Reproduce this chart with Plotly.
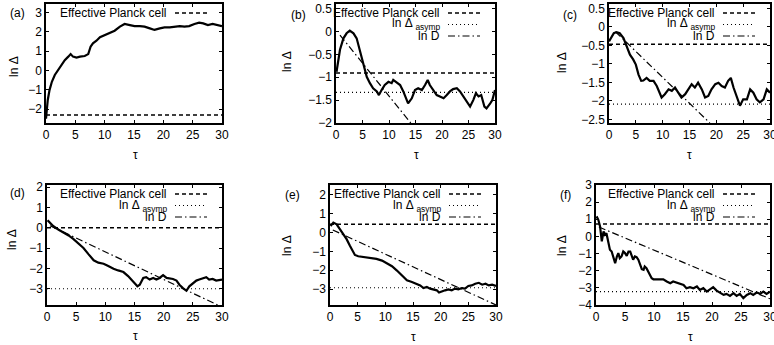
import plotly.graph_objects as go

W, H = 774, 345

# ---------------- data ----------------
tau_a = [0, 0.3, 0.6, 1.0, 1.5, 2.1, 2.7, 3.2, 3.8, 4.2, 4.6, 5.2, 5.8, 6.6, 7.2, 7.6, 8.0, 8.6, 9.2, 10.0,
         10.9, 11.7, 12.6, 13.4, 14.3, 15.1, 16.0, 16.8, 17.7, 18.5, 19.4, 20.2, 21.1, 21.9, 22.8, 23.6,
         24.4, 25.3, 26.1, 26.8, 27.6, 28.4, 29.3, 30]
lnd_a = [-2.5, -1.53, -1.02, -0.59, -0.24, 0.02, 0.28, 0.53, 0.71, 0.84, 0.71, 0.66, 0.71, 0.74, 0.84, 1.22,
         1.4, 1.53, 1.71, 1.83, 1.95, 2.05, 2.26, 2.4, 2.34, 2.29, 2.29, 2.26, 2.17, 2.09, 2.17, 2.22, 2.22,
         2.26, 2.29, 2.26, 2.29, 2.4, 2.47, 2.43, 2.34, 2.4, 2.34, 2.29]
planck_a = -2.31

tau_b = [0.1, 0.75, 1.4, 2.0, 2.6, 3.3, 3.9, 4.5, 5.2, 5.8, 6.4, 7.0, 7.7, 8.1, 8.6, 9.2, 9.9, 10.5, 10.8,
         11.4, 12.1, 12.7, 13.3, 13.6, 14.3, 14.9, 15.5, 16.2, 16.8, 17.3, 17.7, 18.4, 19.0, 19.6, 20.3,
         20.9, 21.5, 22.1, 22.8, 23.4, 24.0, 24.7, 25.3, 25.9, 26.4, 26.9, 27.4, 28.0, 28.4, 29.1, 29.5, 30]
lnd_b = [-0.88, -0.4, -0.15, -0.04, 0.02, -0.04, -0.15, -0.4, -0.7, -0.99, -1.13, -1.24, -1.31, -1.39,
         -1.28, -1.17, -1.1, -1.13, -1.06, -1.12, -1.17, -1.31, -1.5, -1.57, -1.46, -1.28, -1.24, -1.28,
         -1.17, -1.06, -1.17, -1.28, -1.39, -1.42, -1.46, -1.39, -1.31, -1.26, -1.24, -1.31, -1.42, -1.53,
         -1.64, -1.5, -1.35, -1.42, -1.39, -1.64, -1.68, -1.57, -1.5, -1.28]
planck_b = -0.91
asymp_b = -1.33
lnD_tau_b = [0.75, 14.1]
lnD_b = [-0.08, -2.0]

tau_c = [0, 0.5, 0.9, 1.4, 2.0, 2.7, 3.3, 3.9, 4.5, 5.0, 5.5, 6.0, 6.4, 7.0, 7.6, 8.3, 8.9, 9.4, 9.8, 10.4,
         11.1, 11.7, 12.3, 12.9, 13.5, 14.2, 14.8, 15.4, 16.0, 16.6, 17.3, 17.9, 18.5, 19.1, 19.8, 20.4,
         21.0, 21.6, 22.2, 22.7, 23.2, 23.8, 24.4, 25.0, 25.7, 26.3, 26.9, 27.5, 28.1, 28.8, 29.4, 30]
lnd_c = [-0.39, -0.26, -0.17, -0.14, -0.17, -0.3, -0.53, -0.75, -0.88, -1.02, -1.29, -1.46, -1.45, -1.38,
         -1.46, -1.46, -1.6, -1.78, -1.91, -1.82, -1.69, -1.73, -1.64, -1.78, -1.91, -1.82, -1.69, -1.55,
         -1.64, -1.51, -1.69, -1.91, -1.87, -1.69, -1.55, -1.51, -1.6, -1.64, -1.46, -1.38, -1.64, -1.91,
         -2.13, -1.96, -1.96, -1.69, -1.78, -1.96, -2.04, -1.96, -1.69, -1.78]
planck_c = -0.47
asymp_c = -2.09
lnD_tau_c = [1.2, 18.8]
lnD_c = [-0.13, -2.6]

tau_d = [0.1, 0.6, 1.1, 2.0, 2.8, 3.7, 4.5, 5.4, 6.25, 7.1, 8.0, 8.8, 9.7, 10.5, 11.4, 12.2, 13.1, 13.9, 14.8,
         15.5, 15.9, 16.5, 17.0, 17.6, 18.2, 18.75, 19.3, 19.9, 20.5, 21.0, 21.6, 22.2, 22.7, 23.3, 23.9,
         24.4, 25.0, 25.6, 26.1, 26.7, 27.3, 27.8, 28.4, 29.0, 30]
lnd_d = [0.37, 0.2, 0.07, -0.1, -0.22, -0.38, -0.55, -0.77, -1.0, -1.3, -1.6, -1.72, -1.77, -1.88, -2.02,
         -2.1, -2.18, -2.38, -2.68, -2.88, -2.8, -2.47, -2.43, -2.55, -2.47, -2.55, -2.47, -2.33, -2.47,
         -2.5, -2.52, -2.6, -2.8, -2.97, -3.1, -2.88, -2.72, -2.6, -2.55, -2.47, -2.43, -2.55, -2.52, -2.6,
         -2.55]
planck_d = 0.0
asymp_d = -3.0
lnD_tau_d = [0.5, 30]
lnD_d = [0.1, -3.9]

tau_e = [0.1, 0.6, 1.2, 1.8, 2.4, 3.0, 3.6, 4.1, 4.5, 5.1, 5.7, 6.6, 7.5, 8.4, 9.4, 10.3, 11.2, 12.1, 13.0,
         13.9, 14.8, 15.7, 16.3, 16.9, 17.5, 18.1, 18.7, 19.3, 19.7, 20.2, 20.8, 21.4, 22.0, 22.6, 23.2,
         23.8, 24.4, 25.0, 25.6, 26.25, 26.9, 27.5, 28.1, 28.7, 29.3, 30]
lnd_e = [0.35, 0.53, 0.44, 0.18, -0.09, -0.35, -0.7, -1.02, -1.19, -1.26, -1.28, -1.32, -1.37, -1.4, -1.49,
         -1.63, -1.79, -2.02, -2.28, -2.54, -2.63, -2.72, -2.81, -2.95, -2.89, -2.98, -3.02, -3.07, -3.19,
         -3.12, -3.07, -3.02, -3.07, -2.98, -3.02, -2.95, -2.98, -2.84, -2.81, -2.72, -2.67, -2.77, -2.72,
         -2.81, -2.77, -2.84]
planck_e = 0.44
asymp_e = -2.93
lnD_tau_e = [0.5, 30]
lnD_e = [0.14, -3.85]

tau_f = [0.1, 0.4, 0.7, 1.0, 1.3, 1.55, 1.8, 2.1, 2.4, 2.7, 3.0, 3.3, 3.6, 3.85, 4.1, 4.4, 4.7, 5.0, 5.3, 5.6,
         5.9, 6.15, 6.4, 6.7, 7.0, 7.3, 7.6, 7.9, 8.2, 8.4, 8.7, 9.0, 9.3, 9.6, 9.9, 10.5, 11.0, 11.6, 12.2,
         12.8, 13.3, 13.9, 14.5, 15.1, 15.6, 16.2, 16.8, 17.4, 17.9, 18.5, 19.1, 19.7, 20.2, 20.8, 21.4,
         22.0, 22.5, 23.1, 23.7, 24.25, 24.8, 25.4, 26.0, 26.6, 27.1, 27.7, 28.3, 28.85, 29.4, 30]
lnd_f = [1.17, 0.97, 0.58, -0.29, 0.29, 0.1, 0.19, -0.29, -0.78, -0.88, -1.17, -1.56, -1.17, -0.97, -1.27,
         -1.17, -0.88, -0.97, -1.13, -0.88, -0.88, -1.17, -1.36, -1.17, -1.21, -1.36, -1.66, -1.91, -1.95,
         -1.75, -1.85, -2.05, -2.3, -2.44, -2.5, -2.5, -2.53, -2.5, -2.63, -2.73, -2.63, -2.69, -2.73,
         -2.83, -3.02, -2.96, -3.02, -2.92, -3.12, -3.02, -3.22, -3.08, -2.96, -3.16, -3.27, -3.41, -3.35,
         -3.47, -3.31, -3.47, -3.35, -3.6, -3.41, -3.31, -3.41, -3.27, -3.35, -3.22, -3.35, -3.22]
planck_f = 0.72
asymp_f = -3.22
lnD_tau_f = [0.5, 30]
lnD_f = [0.55, -3.64]

x_ticks = [0, 5, 10, 15, 20, 25, 30]
panel_labels = ["(a)", "(b)", "(c)", "(d)", "(e)", "(f)"]
legend_labels = ["Effective Planck cell", "ln Δ <sub>asymp</sub>", "ln D"]
x_title = "τ"
y_title = "ln Δ"

# ---------------- layout geometry (pixels) ----------------
FONT = "Liberation Sans, Arial, sans-serif"
panels = [
    dict(l=46, r=222, t=4, b=123, yr=[-2.72, 3.43], dt=1, lab=(17, 13), yt=(14, 66), xt=(135, 155)),
    dict(l=336, r=495, t=4, b=123, yr=[-2.0, 0.6], dt=0.5, lab=(298, 15), yt=(287, 62), xt=(416, 155)),
    dict(l=609, r=770, t=4, b=123, yr=[-2.6, 0.62], dt=0.5, lab=(570, 15), yt=(562, 63), xt=(689, 155)),
    dict(l=47, r=222, t=185, b=305, yr=[-3.8, 2.1], dt=1, lab=(17, 193), yt=(12, 240), xt=(135, 336)),
    dict(l=330, r=496, t=185, b=305, yr=[-3.85, 2.53], dt=1, lab=(292, 195), yt=(287, 246), xt=(414, 337)),
    dict(l=596, r=770, t=185, b=305, yr=[-4.0, 3.0], dt=1, lab=(565, 195), yt=(562, 246), xt=(690, 337)),
]

data = [
    (tau_a, lnd_a, planck_a, None, None, None),
    (tau_b, lnd_b, planck_b, asymp_b, lnD_tau_b, lnD_b),
    (tau_c, lnd_c, planck_c, asymp_c, lnD_tau_c, lnD_c),
    (tau_d, lnd_d, planck_d, asymp_d, lnD_tau_d, lnD_d),
    (tau_e, lnd_e, planck_e, asymp_e, lnD_tau_e, lnD_e),
    (tau_f, lnd_f, planck_f, asymp_f, lnD_tau_f, lnD_f),
]

def px(x):
    return x / W

def py(y):
    return 1 - y / H

DASH = "4px,3px"
DOT = "1px,3px"
DASHDOT = "7px,3px,1.5px,3px"

fig = go.Figure()
annotations = []
shapes = []
layout_axes = {}

def txt(x, y, text, **kw):
    d = dict(x=px(x), y=py(y), xref="paper", yref="paper", text=text, showarrow=False,
             xanchor="center", yanchor="middle",
             font=dict(family=FONT, size=12, color="black"))
    d.update(kw)
    return d

for i, (p, d) in enumerate(zip(panels, data)):
    n = "" if i == 0 else str(i + 1)
    xa, ya = "x" + n, "y" + n
    tau, vals, planck, asymp, lnDt, lnDv = d
    fig.add_trace(go.Scatter(x=[x_ticks[0], x_ticks[-1]], y=[planck, planck], mode="lines",
                             line=dict(color="black", width=1.5, dash=DASH), xaxis=xa, yaxis=ya))
    if asymp is not None:
        fig.add_trace(go.Scatter(x=[x_ticks[0], x_ticks[-1]], y=[asymp, asymp], mode="lines",
                                 line=dict(color="black", width=1.1, dash=DOT), xaxis=xa, yaxis=ya))
        fig.add_trace(go.Scatter(x=lnDt, y=lnDv, mode="lines",
                                 line=dict(color="black", width=1.2, dash=DASHDOT), xaxis=xa, yaxis=ya))
    fig.add_trace(go.Scatter(x=tau, y=vals, mode="lines",
                             line=dict(color="black", width=2.2), xaxis=xa, yaxis=ya))

    common = dict(showgrid=False, zeroline=False, showline=True, linecolor="black", linewidth=1.5,
                  mirror="ticks", ticks="inside", ticklen=3, tickcolor="black", tickwidth=1,
                  ticklabeloverflow="allow",
                  tickfont=dict(family=FONT, size=12, color="black"))
    layout_axes["xaxis" + n] = dict(domain=[px(p["l"]), px(p["r"])], anchor=ya, range=[0, 30],
                                    tickvals=x_ticks, **common)
    layout_axes["yaxis" + n] = dict(domain=[py(p["b"]), py(p["t"])], anchor=xa, range=p["yr"],
                                    dtick=p["dt"], tick0=0, **common)

    annotations.append(txt(p["lab"][0], p["lab"][1], panel_labels[i]))
    annotations.append(txt(p["yt"][0], p["yt"][1], y_title, textangle=-90))
    annotations.append(txt(p["xt"][0], p["xt"][1], x_title))

    n_entries = 1 if asymp is None else 3
    lend = p["r"] - 15
    lstart = lend - 32
    for k in range(n_entries):
        yy = p["t"] + 9 + 11.5 * k
        annotations.append(txt(lstart - 6, yy, legend_labels[k], xanchor="right", align="right"))
        dash = [DASH, DOT, DASHDOT][k]
        wid = [1.5, 1.1, 1.2][k]
        shapes.append(dict(type="line", xref="paper", yref="paper", x0=px(lstart), x1=px(lend),
                           y0=py(yy), y1=py(yy), line=dict(color="black", width=wid, dash=dash)))

fig.update_layout(
    width=W, height=H, margin=dict(l=0, r=0, t=0, b=0, autoexpand=False),
    paper_bgcolor="white", plot_bgcolor="white", showlegend=False,
    annotations=annotations, shapes=shapes, **layout_axes,
)

fig.write_html("out.html", config={"displayModeBar": False},
               post_script="document.body.style.margin='0';document.body.style.overflow='hidden';")
